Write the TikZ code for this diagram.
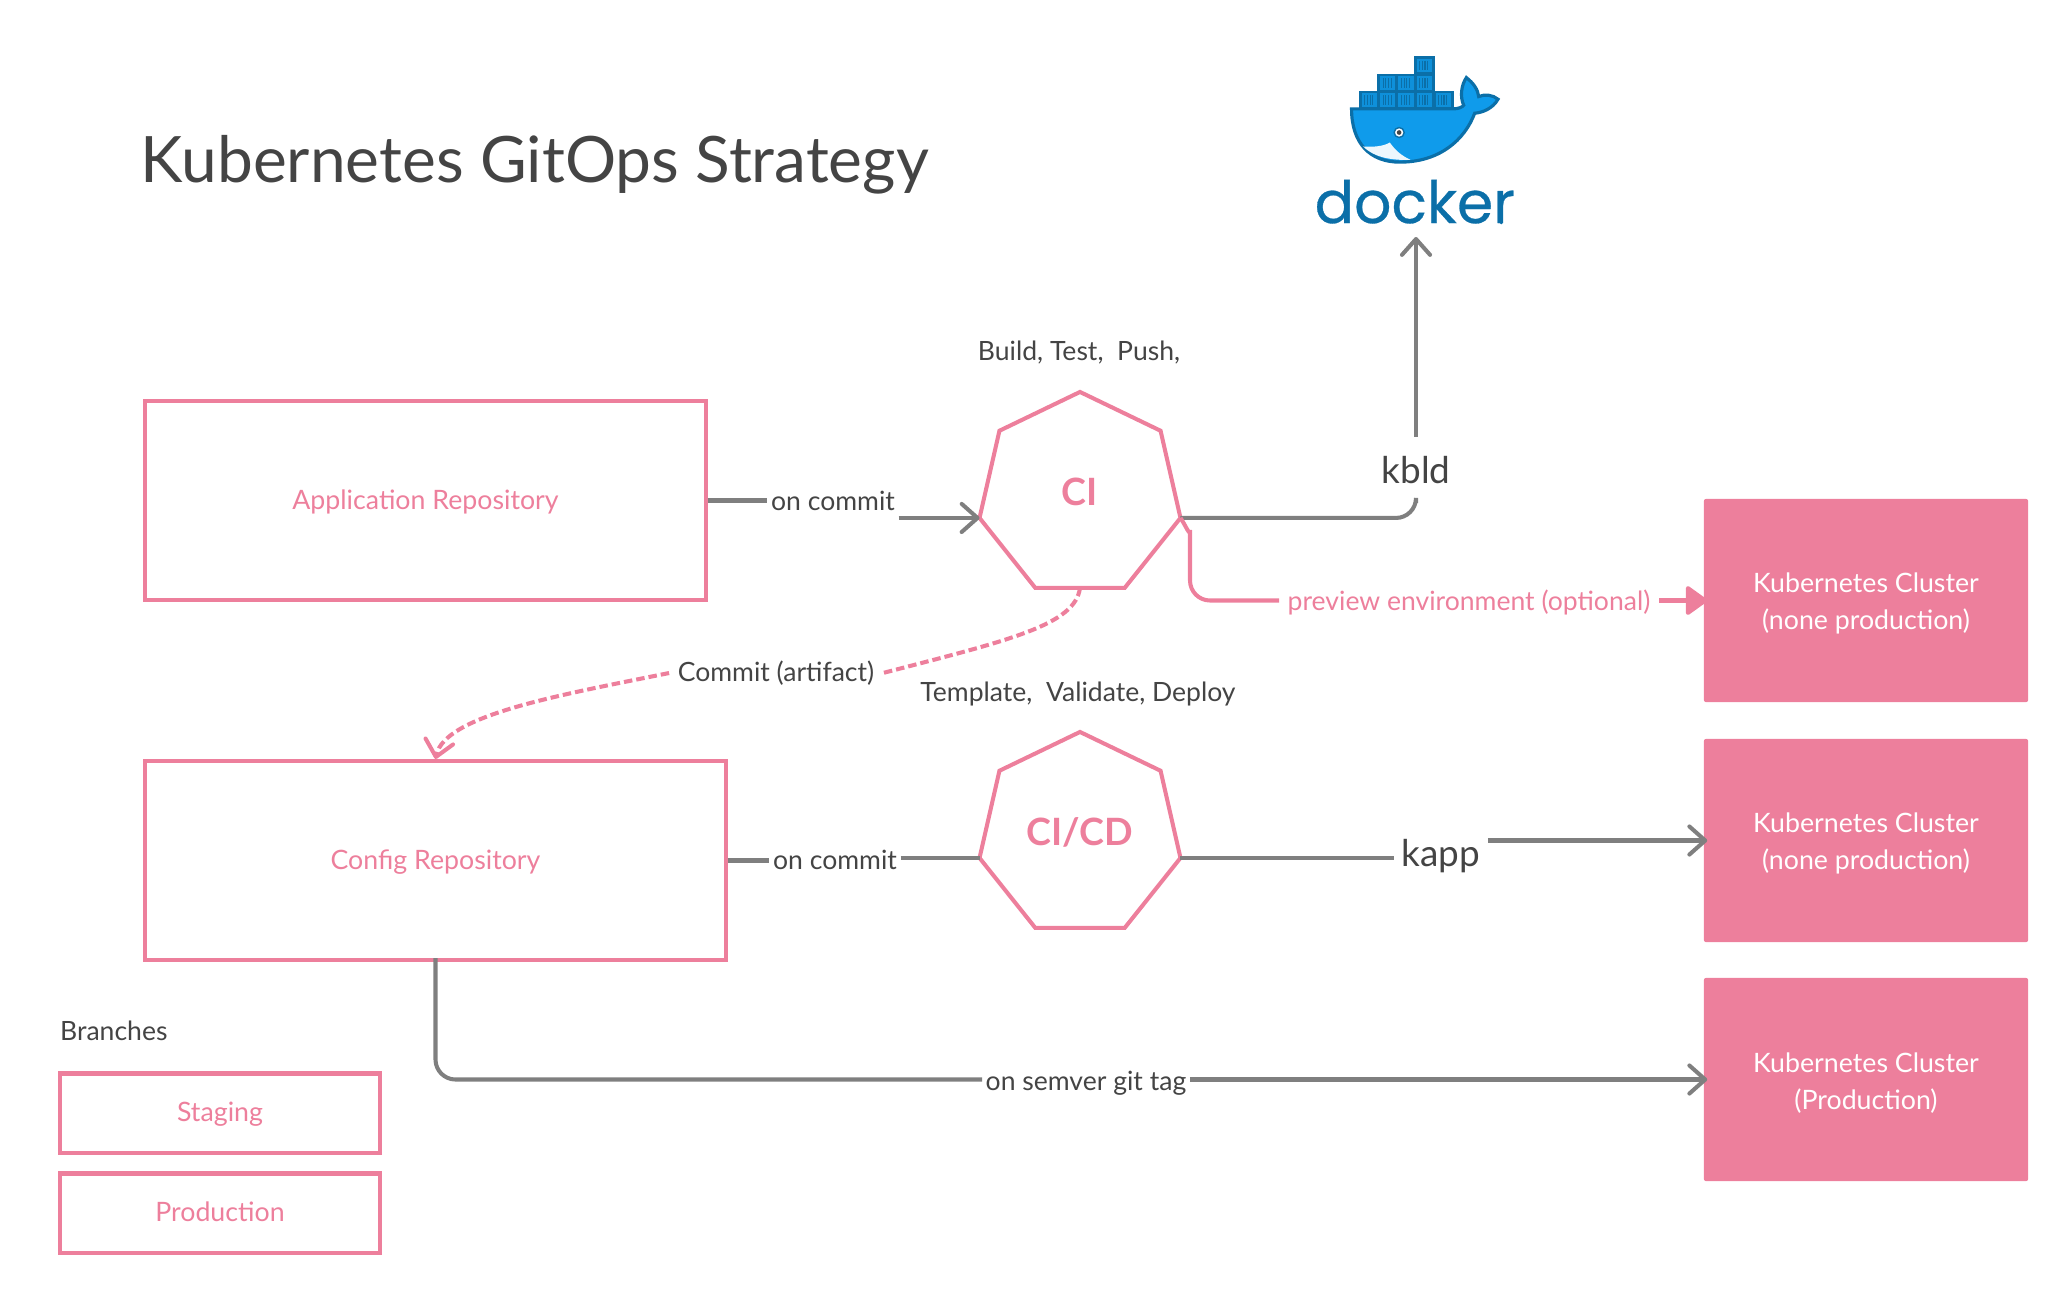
\documentclass[tikz,border=0pt]{standalone}
\usepackage{fontspec}
\setmainfont{Lato}
\newfontfamily\dockerfont[FakeBold=0.5]{Poppins}
\usetikzlibrary{arrows.meta,shapes.geometric}
\definecolor{rosepink}{HTML}{ED7F9C}
\definecolor{flowgray}{HTML}{7F7F7F}
\definecolor{inkgray}{HTML}{444444}
\definecolor{whaleblue}{HTML}{0F9BEB}
\definecolor{whaledark}{HTML}{0B6FA8}
\tikzset{
  txt/.style={text=inkgray, font=\fontsize{7.55}{10.5}\selectfont, inner sep=0.03cm},
  repobox/.style={draw=rosepink, line width=1.15pt, text=rosepink, text height=0.23cm, text depth=0.06cm, font=\fontsize{7.6}{10.5}\selectfont},
  clusterbox/.style={fill=rosepink, text=white, align=center, minimum width=3.24cm, minimum height=2.03cm, rounded corners=0.02cm, text height=0.63cm, font=\fontsize{7.6}{10.5}\selectfont},
  heptagon/.style={regular polygon, regular polygon sides=7, draw=rosepink, line width=1.15pt, minimum size=2.06cm, inner sep=0pt, outer sep=0pt, text=rosepink, text height=0.28cm, text depth=0.08cm, font=\fontsize{10.7}{13}\selectfont\bfseries},
  flow/.style={draw=flowgray, line width=1.15pt},
  pinkflow/.style={draw=rosepink, line width=1.15pt},
  barb/.style={-{Straight Barb[length=4.5pt,width=8pt,round]}},
  dashline/.style={dash pattern=on 0.085cm off 0.04cm}
}
\begin{document}
\begin{tikzpicture}[x=0.01cm,y=-0.01cm]
  \useasboundingbox (0,0) rectangle (2066,1293);
  % title
  \node[txt, anchor=base west, font=\fontsize{18.2}{21}\selectfont] (title) at (137,182) {Kubernetes GitOps Strategy};
  % repositories
  \node[repobox, minimum width=5.6cm, minimum height=1.99cm] (apprepo) at (425.5,500.5) {Application Repository};
  \node[repobox, minimum width=5.8cm, minimum height=1.99cm] (configrepo) at (435.5,860.5) {Config Repository};
  % branches
  \node[txt, anchor=west] (branches) at (56.5,1031) {Branches};
  \node[repobox, minimum width=3.19cm, minimum height=0.79cm] (staging) at (220,1113) {Staging};
  \node[repobox, minimum width=3.19cm, minimum height=0.79cm] (production) at (220,1213) {Production};
  % pipelines
  \node[heptagon] (ci) at (1080,495) {CI};
  \node[heptagon] (cicd) at (1080,835) {CI/CD};
  \node[txt] (citext) at (1079,353) {Build, Test,\ \ Push,};
  \node[txt] (cicdtext) at (1078,694) {Template,\ \ Validate,\ Deploy};
  % clusters
  \node[clusterbox] (clustera) at (1866,600.5) {Kubernetes Cluster\\(none production)};
  \node[clusterbox] (clusterb) at (1866,840.5) {Kubernetes Cluster\\(none production)};
  \node[clusterbox] (clusterc) at (1866,1079.5) {Kubernetes Cluster\\(Production)};
  % connector labels
  \node[txt] (oncommita) at (833,501) {on commit};
  \node[txt] (oncommitb) at (835,860) {on commit};
  \node[txt, inner sep=0.08cm] (commitart) at (776,673) {Commit (artifact)};
  \node[txt] (semver) at (1086,1083) {on semver git tag};
  \node[txt, text=rosepink, inner sep=0.08cm] (preview) at (1469,602) {preview environment (optional)};
  \node[txt, font=\fontsize{10.5}{12}\selectfont, minimum height=0.65cm] (kbld) at (1416,470) {kbld};
  \node[txt, font=\fontsize{10.5}{12}\selectfont, inner sep=0.07cm] (kapp) at (1441,856) {kapp};
  \coordinate (dockertip) at (1416,237);
  \coordinate (previewbend) at (1190,550);
  % docker logo
  \begin{scope}[shift={(1280,30)},x=0.003333cm,y=-0.003333cm]
    \draw[fill=whaleblue, draw=whaledark, line width=0.9pt] (215,237) -- (520,237)
      .. controls (535,237) and (548,232) .. (552,226)
      .. controls (540,200) and (545,165) .. (560,143)
      .. controls (582,160) and (595,180) .. (597,200)
      .. controls (615,192) and (640,195) .. (655,208)
      .. controls (640,235) and (610,248) .. (585,250)
      .. controls (555,330) and (480,397) .. (360,397)
      .. controls (270,397) and (215,340) .. (215,237) -- cycle;
    \fill[white!92!whaleblue] (250,350) .. controls (280,352) and (310,350) .. (330,338)
      .. controls (345,360) and (365,378) .. (392,390)
      .. controls (340,392) and (285,385) .. (250,350) -- cycle;
    \filldraw[fill=white, draw=whaledark, line width=0.4pt] (358,308) circle (15);
    \fill[inkgray] (358,308) circle (7);
    % containers
    \foreach \x/\y in {241/186,296/186,351/186,406/186,463/186,296/135,351/135,406/135,406/82}{
      \draw[fill=whaleblue!75!whaledark, draw=whaledark, line width=0.8pt] (\x,\y) rectangle ++(55,49);
      \foreach \s in {14,22,30,38}
      \draw[whaledark, line width=0.35pt] (\x+\s,\y+10) -- (\x+\s,\y+38);
    }
    \node[text=whaledark, inner sep=0pt, font=\fontsize{16.6}{20}\dockerfont\selectfont] (dockerword) at (405,516) {docker};
    \fill[whaledark] (665,580) circle (4);
  \end{scope}
  % connectors
  \draw[flow] (apprepo.east) -- (oncommita.west |- apprepo.east);
  \draw[flow,barb] (oncommita.east |- ci.corner 3) -- (ci.corner 3);
  \draw[flow,rounded corners=0.2cm] (ci.corner 6) -| (kbld.south);
  \draw[flow,barb] (kbld.north) -- (dockertip);
  \draw[pinkflow,rounded corners=0.2cm] (ci.corner 6) .. controls (1186,526) and (1190,537) .. (previewbend) |- (preview.west |- clustera.west);
  \draw[pinkflow,shorten >=-0.04cm,-{Triangle[length=6.5pt,width=9pt,round]}] (preview.east |- clustera.west) -- (clustera.west);
  \draw[pinkflow,dashline] (ci.south) .. controls (1075,625) and (1010,640) .. (commitart.east);
  \draw[pinkflow,dashline,barb] (commitart.west) .. controls (560,695) and (445,715) .. (configrepo.north);
  \draw[flow] (configrepo.east) -- (oncommitb.west |- configrepo.east);
  \draw[flow] (oncommitb.east |- cicd.corner 3) -- (cicd.corner 3);
  \draw[flow] (cicd.corner 6) -- (kapp.west |- cicd.corner 6);
  \draw[flow,shorten >=-0.04cm,barb] (kapp.east |- clusterb.west) -- (clusterb.west);
  \draw[flow,shorten <=-0.04cm,rounded corners=0.2cm] (configrepo.south) |- (semver.west |- clusterc.west);
  \draw[flow,shorten >=-0.04cm,barb] (semver.east |- clusterc.west) -- (clusterc.west);
\end{tikzpicture}
\end{document}
